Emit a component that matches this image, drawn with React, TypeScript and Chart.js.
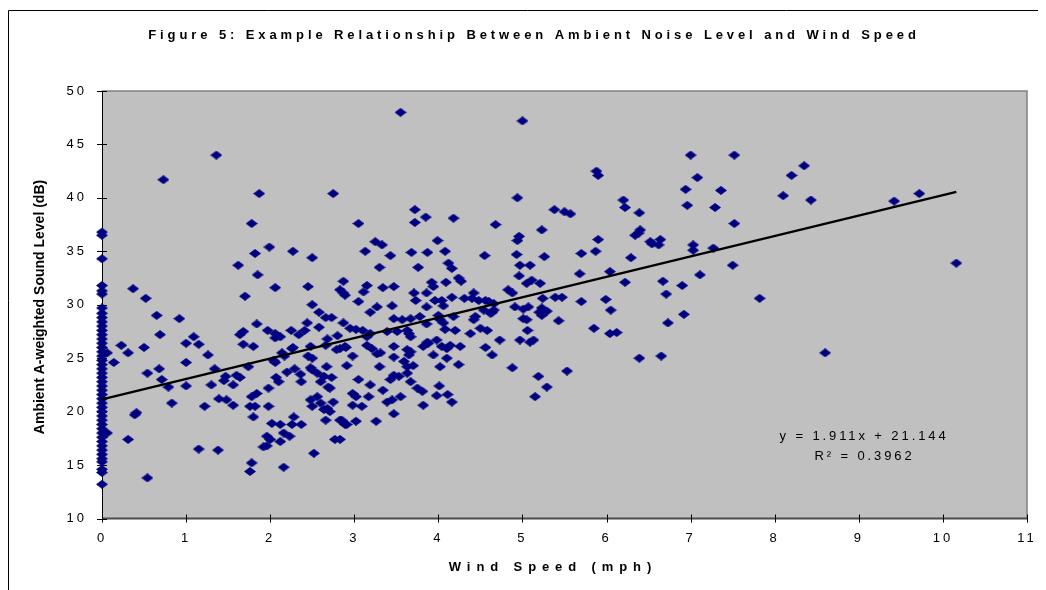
import React, { useEffect, useRef } from "react";
import { Chart, registerables } from "chart.js";

Chart.register(...registerables);

// Ambient noise readings at 0 mph (calm)
const calmNoise: number[] = [
  36.8, 36.5, 34.3, 31.8, 31.3, 31.0, 29.7, 29.2, 28.8, 28.4, 28.0, 27.6, 27.2, 26.8,
  26.4, 26.0, 25.6, 25.2, 24.8, 24.4, 24.0, 23.6, 23.2, 22.8, 22.4, 22.0, 21.6, 21.2,
  20.8, 20.4, 20.0, 19.6, 19.2, 18.8, 18.4, 18.0, 17.6, 17.2, 16.8, 16.4, 16.0, 15.6,
  15.3, 14.6, 14.3, 13.2,
];

// [wind speed (mph), sound level (dB)]
const lowWind: [number, number][] = [
  [0.06, 25.5], [0.06, 18.0], [0.73, 41.7], [1.36, 44.0], [1.87, 40.4], [2.75, 40.4], [1.78, 37.6],
  [1.99, 35.4], [1.82, 34.8], [2.27, 35.0], [2.5, 34.4], [1.62, 33.7], [1.85, 32.8], [0.37, 31.5],
  [0.52, 30.6], [1.7, 30.8], [2.06, 31.6], [2.45, 31.7], [2.87, 32.2], [2.83, 31.4], [2.87, 31.1],
  [2.5, 30.0], [0.65, 29.0], [0.92, 28.7], [0.69, 27.2], [0.23, 26.2], [0.31, 25.5], [0.5, 26.0],
  [0.14, 24.6], [1.0, 26.4], [1.09, 27.0], [1.15, 26.3], [1.26, 25.3], [1.0, 24.6], [2.58, 29.3],
  [2.66, 28.8], [2.73, 28.8], [2.44, 28.3], [2.58, 27.9], [2.41, 27.6], [2.25, 27.6], [2.34, 27.2],
  [1.84, 28.2], [1.97, 27.6], [2.06, 27.3], [2.12, 27.0], [2.06, 26.9], [1.68, 27.5], [1.64, 27.2],
  [1.68, 26.3], [1.8, 26.1], [2.27, 26.0], [2.48, 26.1], [2.68, 26.8], [2.8, 27.1], [2.79, 25.8],
  [2.9, 26.0], [2.66, 26.2], [2.45, 25.2], [2.5, 25.0], [2.17, 25.2], [1.74, 24.2], [2.06, 24.6],
  [2.29, 24.0], [2.48, 24.1], [2.67, 24.2], [0.68, 24.0], [1.34, 24.0], [2.91, 24.3], [0.54, 23.6],
  [0.71, 23.0], [0.79, 22.3], [1.0, 22.4], [0.83, 20.8], [0.41, 19.9], [0.39, 19.7], [0.31, 17.4],
  [0.54, 13.8], [1.22, 20.5], [1.3, 22.5], [1.47, 23.3], [1.45, 22.9], [1.56, 22.5], [1.6, 23.4],
  [1.64, 23.2], [1.39, 21.2], [1.48, 21.1], [1.56, 20.6], [1.15, 16.5], [1.38, 16.4], [1.78, 21.4],
  [1.84, 21.7], [1.76, 20.5], [1.82, 20.5], [1.8, 19.5], [1.98, 22.2], [1.98, 20.5], [2.07, 23.2],
  [2.1, 22.8], [2.2, 23.7], [2.36, 23.5], [2.37, 22.8], [2.5, 23.9], [2.56, 23.6], [2.64, 23.3],
  [2.73, 23.2], [2.6, 22.8], [2.69, 22.3], [2.71, 22.2], [2.48, 21.1], [2.56, 21.4], [2.5, 20.5],
  [2.6, 20.8], [2.64, 20.2], [2.68, 20.3], [2.75, 20.9], [2.71, 20.0], [2.02, 18.9], [2.12, 18.8],
  [2.28, 19.5], [2.26, 18.8], [2.37, 18.8], [1.96, 17.7], [2.0, 17.4], [2.16, 18.0], [2.23, 17.7],
  [2.12, 17.2], [1.92, 16.7], [1.96, 16.8], [1.78, 15.2], [1.76, 14.4], [2.16, 14.8], [2.52, 16.1],
  [2.77, 17.4], [2.66, 19.2], [2.85, 19.2], [2.91, 18.8], [2.95, 27.8], [2.04, 24.8], [2.14, 25.5],
  [2.26, 25.9], [2.87, 28.3], [2.83, 25.9], [2.89, 26.1], [2.98, 25.2], [2.89, 30.9], [2.98, 21.7],
  [2.98, 20.6], [2.83, 19.2], [2.89, 18.8], [2.83, 17.4],
];

const midWind: [number, number][] = [
  [3.55, 48.0], [3.72, 38.9], [3.85, 38.2], [3.72, 37.7], [4.18, 38.1], [3.05, 37.6], [4.68, 37.5],
  [4.96, 36.4], [4.94, 36.0], [3.99, 36.0], [3.25, 35.9], [3.33, 35.6], [3.13, 35.0], [3.43, 34.6],
  [3.68, 34.9], [3.87, 34.9], [4.08, 35.0], [4.55, 34.6], [4.93, 34.7], [3.3, 33.5], [3.76, 33.5],
  [4.12, 33.9], [4.16, 33.4], [4.97, 33.7], [4.96, 32.7], [3.15, 31.8], [3.11, 31.2], [3.34, 31.6],
  [3.47, 31.7], [3.92, 32.1], [3.94, 31.7], [4.09, 32.1], [4.24, 32.5], [4.27, 32.2], [4.83, 31.4],
  [4.88, 31.1], [3.05, 30.3], [3.27, 29.8], [3.45, 29.9], [3.71, 31.1], [3.73, 30.4], [3.86, 31.1],
  [3.96, 30.4], [4.04, 30.4], [4.16, 30.7], [4.31, 30.6], [4.42, 31.1], [4.48, 30.4], [4.56, 30.4],
  [4.66, 30.1], [4.91, 29.8], [3.86, 29.8], [3.02, 27.7], [3.1, 27.6], [3.15, 27.0], [3.15, 26.2],
  [3.21, 25.9], [3.27, 25.4], [3.31, 25.5], [3.47, 26.1], [3.47, 25.1], [3.39, 27.5], [3.51, 27.5],
  [3.47, 28.7], [3.57, 28.6], [3.67, 28.7], [3.78, 28.9], [3.86, 28.2], [4.02, 28.6], [4.08, 27.7],
  [4.38, 27.3], [4.5, 27.8], [4.58, 27.6], [4.73, 26.7], [4.56, 26.0], [4.64, 25.3], [4.97, 26.7],
  [3.63, 27.6], [3.67, 27.0], [3.82, 26.1], [3.88, 26.4], [3.98, 26.7], [4.04, 26.1], [4.14, 26.2],
  [4.26, 26.1], [3.63, 25.8], [3.65, 25.3], [3.94, 25.3], [4.1, 25.0], [4.24, 24.4], [3.3, 24.2],
  [4.02, 24.2], [4.88, 24.1], [4.4, 30.6], [4.6, 30.3], [4.54, 29.5], [4.64, 29.3], [4.44, 28.9],
  [3.19, 29.3], [4.06, 29.9], [4.66, 29.5], [4.62, 29.2], [4.0, 29.0], [4.18, 28.9], [3.19, 27.3],
  [3.65, 27.3], [4.06, 28.3], [4.42, 28.6], [4.2, 27.6], [3.59, 24.7], [3.67, 25.6], [3.63, 24.2],
  [3.7, 24.3], [3.87, 26.5], [4.1, 25.9], [3.05, 23.0], [3.19, 22.5], [3.34, 22.0], [3.02, 21.4],
  [3.17, 21.4], [3.09, 20.5], [3.47, 23.4], [3.43, 23.0], [3.53, 23.3], [3.63, 23.6], [3.67, 22.8],
  [3.75, 22.2], [3.81, 21.9], [3.55, 21.4], [3.39, 20.9], [3.45, 21.1], [3.82, 20.6], [3.47, 19.8],
  [4.01, 22.4], [3.98, 21.5], [4.11, 21.6], [4.16, 20.9], [3.02, 19.1], [3.26, 19.1], [4.94, 40.0],
];

const highWind: [number, number][] = [
  [5.0, 47.2], [5.88, 42.5], [5.9, 42.1], [5.38, 38.9], [5.5, 38.7], [5.57, 38.5], [5.23, 37.0],
  [5.26, 34.5], [5.7, 34.8], [5.87, 35.0], [5.09, 33.7], [5.68, 32.9], [5.05, 32.0], [5.11, 32.3],
  [5.21, 32.0], [5.24, 30.6], [5.39, 30.7], [5.47, 30.7], [5.7, 30.3], [5.07, 29.8], [5.23, 29.7],
  [5.01, 29.6], [5.2, 29.3], [5.29, 29.4], [5.43, 28.5], [5.85, 27.8], [5.06, 27.6], [5.09, 26.5],
  [5.13, 26.7], [5.53, 23.8], [5.01, 28.7], [5.23, 29.0], [5.05, 28.6], [5.19, 23.3], [5.29, 22.3],
  [5.15, 21.4], [5.9, 36.1], [6.34, 36.5], [6.38, 36.7], [6.4, 37.0], [6.52, 35.9], [6.64, 36.1],
  [6.62, 35.6], [6.29, 34.4], [7.03, 35.6], [7.03, 35.1], [7.27, 35.3], [6.04, 33.1], [6.22, 32.1],
  [6.67, 32.2], [6.9, 31.8], [7.11, 32.8], [7.5, 33.7], [6.71, 31.0], [5.99, 30.5], [6.05, 29.5],
  [6.92, 29.1], [6.73, 28.3], [7.82, 30.6], [6.04, 27.3], [6.12, 27.4], [6.39, 25.0], [6.65, 25.2],
  [7.0, 44.0], [7.52, 44.0], [8.35, 43.0], [8.2, 42.1], [7.08, 41.9], [6.94, 40.8], [7.36, 40.7],
  [8.1, 40.2], [8.43, 39.8], [9.42, 39.7], [9.72, 40.4], [10.16, 33.9], [6.96, 39.3], [7.29, 39.1],
  [6.2, 39.8], [6.22, 39.1], [6.39, 38.6], [7.52, 37.6], [6.54, 35.7], [8.6, 25.5],
];

// Linear trend reported on the chart
const trendSlope = 1.911;
const trendIntercept = 21.144;
const trendXRange: number[] = [0, 10.16];

const titleText = "Figure 5: Example Relationship Between Ambient Noise Level and Wind Speed";
const xTitle = "Wind Speed (mph)";
const yTitle = "Ambient A-weighted Sound Level (dB)";
const equationLines: string[] = ["y = 1.911x + 21.144", "R\u00B2 = 0.3962"];

const xTicks = { min: 0, max: 11, step: 1 };
const yTicks = { min: 10, max: 50, step: 5 };

const FONT = '"Liberation Sans", Arial, Helvetica, sans-serif';
const W = 1038;
const H = 582;

function makeDiamond(): HTMLCanvasElement {
  const c = document.createElement("canvas");
  c.width = 12;
  c.height = 9;
  const g = c.getContext("2d")!;
  g.fillStyle = "#000080";
  g.beginPath();
  g.moveTo(0, 4.5);
  g.lineTo(6, 0);
  g.lineTo(12, 4.5);
  g.lineTo(6, 9);
  g.closePath();
  g.fill();
  return c;
}

const decorPlugin = {
  id: "decor",
  beforeDraw(chart: any) {
    const ctx = chart.ctx as CanvasRenderingContext2D;
    const { left, top, right, bottom } = chart.chartArea;
    ctx.save();
    (ctx as any).letterSpacing = "0px";
    ctx.fillStyle = "#ffffff";
    ctx.fillRect(0, 0, chart.width, chart.height);
    ctx.strokeStyle = "#000";
    ctx.lineWidth = 1;
    ctx.beginPath();
    ctx.moveTo(0.5, chart.height);
    ctx.lineTo(0.5, 2.5);
    ctx.lineTo(chart.width, 2.5);
    ctx.stroke();
    ctx.fillStyle = "#C0C0C0";
    ctx.fillRect(left, top, right - left, bottom - top);
    ctx.restore();
    (ctx as any).letterSpacing = "3px";
  },
  beforeDatasetsDraw(chart: any) {
    const ctx = chart.ctx as CanvasRenderingContext2D;
    const { left, top, right, bottom } = chart.chartArea;
    const xs = chart.scales.x;
    const ys = chart.scales.y;
    ctx.save();
    ctx.strokeStyle = "#808080";
    ctx.lineWidth = 1.5;
    ctx.beginPath();
    ctx.moveTo(left, top);
    ctx.lineTo(right, top);
    ctx.lineTo(right, bottom);
    ctx.stroke();
    ctx.strokeStyle = "#4a4a4a";
    ctx.lineWidth = 2;
    ctx.beginPath();
    ctx.moveTo(left, bottom);
    ctx.lineTo(right, bottom);
    ctx.stroke();
    ctx.strokeStyle = "#000";
    ctx.lineWidth = 1;
    ctx.beginPath();
    ctx.moveTo(Math.round(left) + 0.5, top);
    ctx.lineTo(Math.round(left) + 0.5, bottom + 1);
    for (let v = yTicks.min; v <= yTicks.max; v += yTicks.step) {
      const py = Math.round(ys.getPixelForValue(v)) + 0.5;
      ctx.moveTo(left - 5, py);
      ctx.lineTo(left + 5, py);
    }
    for (let v = xTicks.min; v <= xTicks.max; v += xTicks.step) {
      const px = Math.round(xs.getPixelForValue(v)) + 0.5;
      ctx.moveTo(px, bottom - 4);
      ctx.lineTo(px, bottom + 4);
    }
    ctx.stroke();
    ctx.restore();
  },
  afterDraw(chart: any) {
    const ctx = chart.ctx as CanvasRenderingContext2D;
    const c: any = ctx;
    ctx.save();
    ctx.fillStyle = "#000";
    ctx.textAlign = "center";
    ctx.textBaseline = "middle";

    ctx.font = `bold 13px ${FONT}`;
    c.letterSpacing = "3.9px";
    ctx.fillText(titleText, 524 + 2, 27);

    c.letterSpacing = "5.9px";
    ctx.fillText(xTitle, 542 + 3, 559.5);

    ctx.font = `13px ${FONT}`;
    c.letterSpacing = "2.9px";
    ctx.fillText(equationLines[0], 854.5 + 1.5, 428.7);
    ctx.fillText(equationLines[1], 855 + 1.5, 448);

    c.letterSpacing = "0px";
    ctx.font = `bold 14px ${FONT}`;
    ctx.translate(32, 299);
    ctx.rotate(-Math.PI / 2);
    ctx.fillText(yTitle, 0, 0);
    ctx.restore();
    c.letterSpacing = "0px";
  },
};

export default function App() {
  const ref = useRef<HTMLCanvasElement | null>(null);

  useEffect(() => {
    if (!ref.current) return;
    const diamond = makeDiamond();
    const toPoints = (arr: [number, number][]) => arr.map(([x, y]) => ({ x, y }));
    const readings = [
      ...calmNoise.map((y) => ({ x: 0, y })),
      ...toPoints(lowWind),
      ...toPoints(midWind),
      ...toPoints(highWind),
    ];
    const trend = trendXRange.map((x) => ({ x, y: trendIntercept + trendSlope * x }));

    const chart = new Chart(ref.current, {
      type: "scatter",
      data: {
        datasets: [
          {
            label: "Linear trend",
            data: trend,
            showLine: true,
            borderColor: "#000",
            borderWidth: 2.5,
            pointRadius: 0,
            order: 0,
            clip: false as any,
          },
          {
            label: "Readings",
            data: readings,
            pointStyle: diamond as any,
            pointRadius: 5,
            backgroundColor: "#000080",
            borderColor: "#000080",
            order: 1,
            clip: false as any,
          },
        ],
      },
      options: {
        animation: false,
        responsive: false,
        events: [],
        layout: { padding: { left: 0, top: 83, right: 19, bottom: 0 } },
        plugins: {
          legend: { display: false },
          tooltip: { enabled: false },
          title: { display: false },
        },
        scales: {
          x: {
            type: "linear",
            min: xTicks.min,
            max: xTicks.max,
            grid: { display: false, drawTicks: false },
            border: { display: false },
            ticks: {
              stepSize: xTicks.step,
              color: "#000",
              font: { family: FONT, size: 13 },
              padding: 12,
              maxRotation: 0,
              autoSkip: false,
            },
            afterFit: (s: any) => {
              s.height = 71.5;
            },
          },
          y: {
            type: "linear",
            min: yTicks.min,
            max: yTicks.max,
            grid: { display: false, drawTicks: false },
            border: { display: false },
            ticks: {
              stepSize: yTicks.step,
              color: "#000",
              font: { family: FONT, size: 13 },
              padding: 15,
            },
            afterFit: (s: any) => {
              s.width = 94;
            },
          },
        },
      },
      plugins: [decorPlugin],
    });
    return () => chart.destroy();
  }, []);

  return (
    <div style={{ width: W, height: H }}>
      <style>{"html,body{overflow:hidden}"}</style>
      <canvas ref={ref} width={W} height={H} style={{ display: "block", width: W, height: H }} />
    </div>
  );
}
